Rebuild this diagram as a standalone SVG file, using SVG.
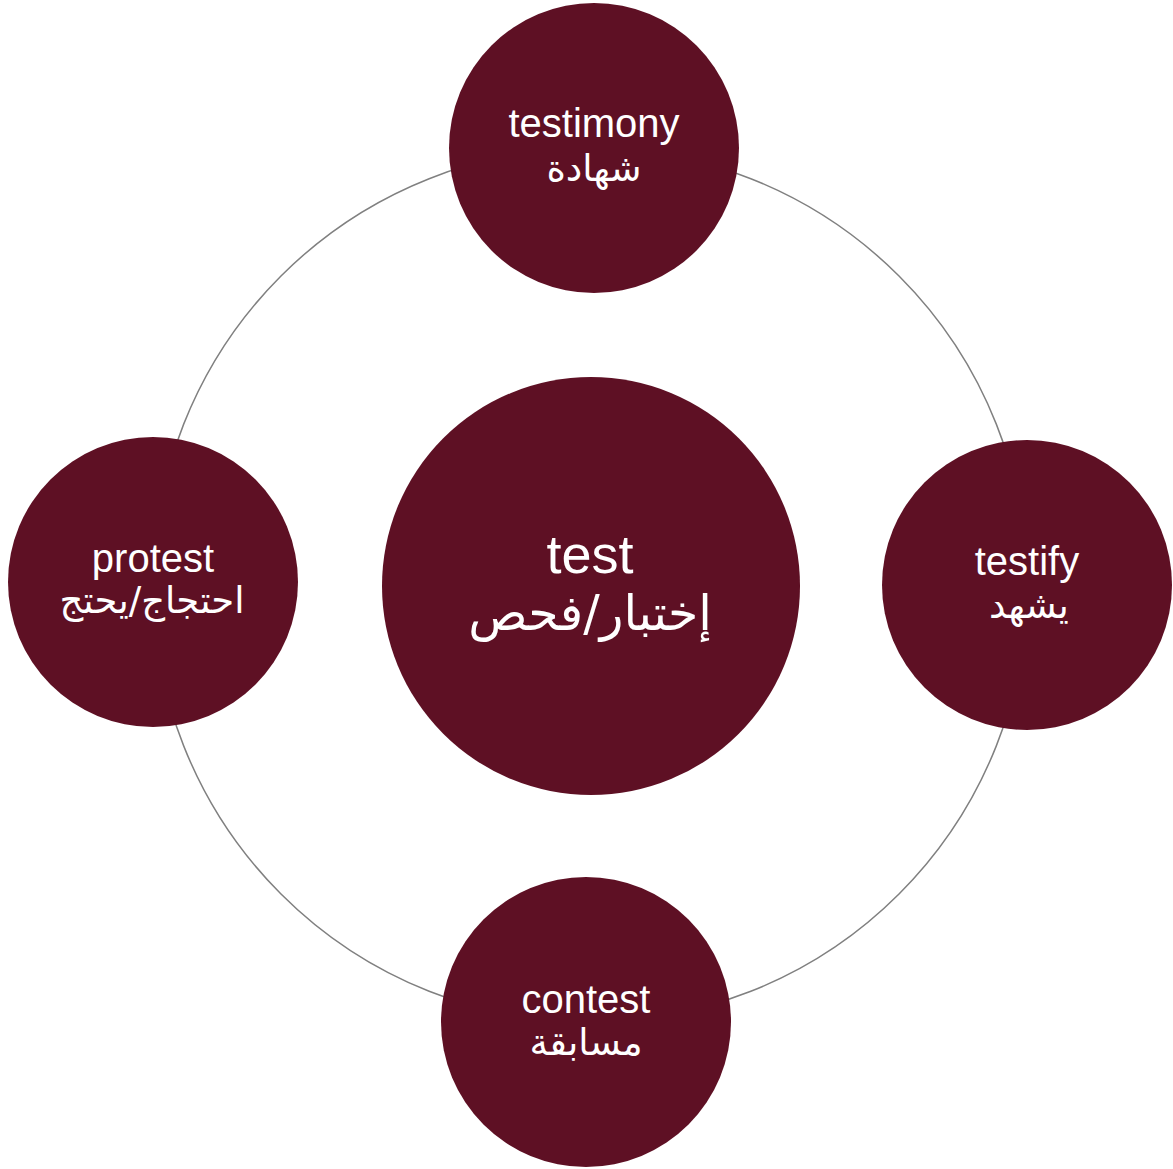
<svg xmlns="http://www.w3.org/2000/svg" width="1173" height="1169" viewBox="0 0 1173 1169">
<style>
.node{fill:#5e1024}
.ring{fill:none;stroke:#808080;stroke-width:1.5}
.en{font-family:"Liberation Sans",Arial,sans-serif;font-size:40px;fill:#fff;text-anchor:middle}
.ar{font-family:"DejaVu Sans","Noto Sans",sans-serif;font-size:37px;fill:#fff;text-anchor:middle}
.big.en{font-size:54px}
.big.ar{font-size:49px}
</style>
<rect width="1173" height="1169" fill="#fff"/>
<g id="connectors">
<circle class="ring" cx="590" cy="585" r="437"/>
</g>
<g id="node-test">
<circle class="node" cx="591" cy="586" r="209"/>
<text class="en big" x="590" y="573">test</text>
<text class="ar big" x="590" y="630" direction="rtl">إختبار/فحص</text>
</g>
<g id="node-testimony">
<circle class="node" cx="594" cy="148" r="145"/>
<text class="en" x="594" y="137">testimony</text>
<text class="ar" x="594" y="181" direction="rtl">شهادة</text>
</g>
<g id="node-testify">
<circle class="node" cx="1027" cy="585" r="145"/>
<text class="en" x="1027" y="575">testify</text>
<text class="ar" x="1029" y="618" direction="rtl">يشهد</text>
</g>
<g id="node-protest">
<circle class="node" cx="153" cy="582" r="145"/>
<text class="en" x="153" y="572">protest</text>
<text class="ar" x="152" y="613" direction="rtl">احتجاج/يحتج</text>
</g>
<g id="node-contest">
<circle class="node" cx="586" cy="1022" r="145"/>
<text class="en" x="586" y="1013">contest</text>
<text class="ar" x="586" y="1055" direction="rtl">مسابقة</text>
</g>
</svg>
